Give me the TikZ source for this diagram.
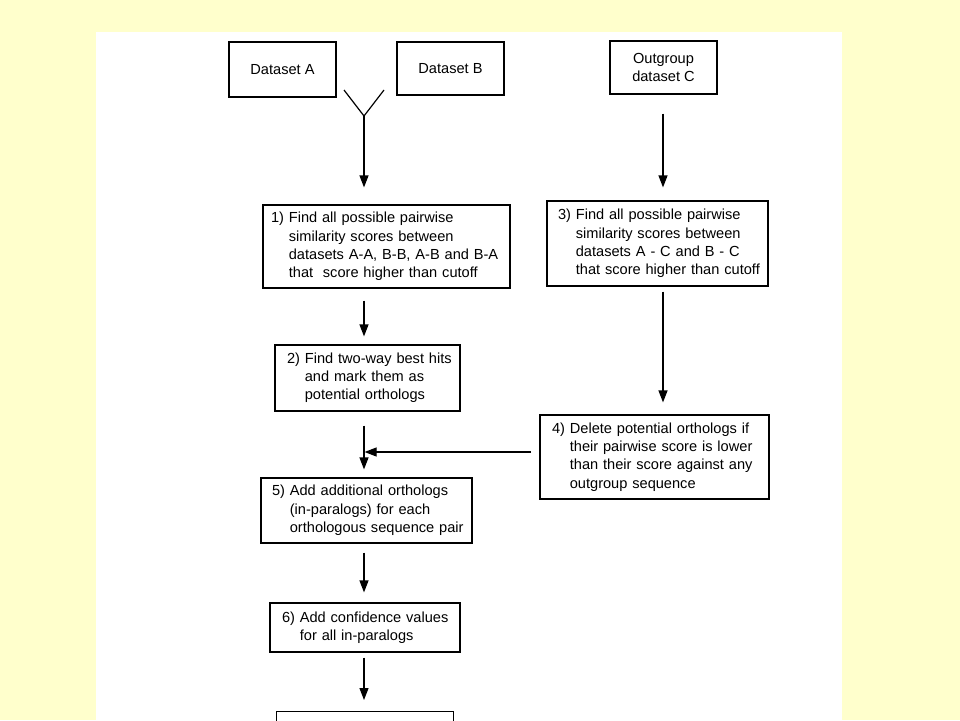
\documentclass[tikz,border=0pt]{standalone}
\usepackage{fontspec}
\setmainfont{Liberation Sans}
\usetikzlibrary{arrows.meta,calc}
\definecolor{bgyellow}{HTML}{FFFFCC}
\newcommand{\stepcontent}[2]{\begin{tabular}{@{}l@{\ }l@{}}#1 & #2\end{tabular}}
\begin{document}
\begin{tikzpicture}[x=1pt,y=-1pt,
  box/.style={draw=black, line width=1.2pt, rectangle, inner ysep=0pt,
    font=\fontsize{14.6}{18.3}\selectfont},
  stepbox/.style={box, align=left},
  flow/.style={line width=1.2pt, -{Triangle[length=12pt,width=9pt]}},
  plainline/.style={line width=1.2pt}]
\fill[bgyellow] (0,0) rectangle (960,720);
\useasboundingbox (0,0) rectangle (960,720);
\fill[white] (96,32) rectangle (842,720);
\clip (0,0) rectangle (960,720);

% dataset boxes
\node[box, minimum width=107pt, minimum height=55pt, inner xsep=0pt] (dsA) at (282.5,69.5) {Dataset A};
\node[box, minimum width=107pt, minimum height=53pt, inner xsep=0pt] (dsB) at (450.5,68.5) {Dataset B};
\node[box, minimum width=107pt, minimum height=53pt, inner xsep=0pt, align=center] (dsC) at (663.5,67.5) {Outgroup\\dataset C};

% step boxes
\node[stepbox, text width=231pt, inner xsep=8pt, minimum height=83pt] (b1) at (386.5,246.5)
  {\stepcontent{1)}{Find all possible pairwise\\ & similarity scores between\\ & datasets A-A, B-B, A-B and B-A\\ & that\ \ score higher than cutoff}};
\node[stepbox, text width=161pt, inner xsep=12pt, minimum height=66pt] (b2) at (367.5,378)
  {\stepcontent{2)}{Find two-way best hits\\ & and mark them as\\ & potential orthologs}};
\node[stepbox, text width=199pt, inner xsep=11pt, minimum height=85pt] (b3) at (657.5,243.5)
  {\stepcontent{3)}{Find all possible pairwise\\ & similarity scores between\\ & datasets A - C and B - C\\ & that score higher than cutoff}};
\node[stepbox, text width=205pt, inner xsep=12pt, minimum height=84pt] (b4) at (654.5,457)
  {\stepcontent{4)}{Delete potential orthologs if\\ & their pairwise score is lower\\ & than their score against any\\ & outgroup sequence}};
\node[stepbox, text width=189pt, inner xsep=11pt, minimum height=65pt] (b5) at (366.5,510.5)
  {\stepcontent{5)}{Add additional orthologs\\ & (in-paralogs) for each\\ & orthologous sequence pair}};
\node[stepbox, text width=166pt, inner xsep=12pt, minimum height=49pt] (b6) at (365,627.5)
  {\stepcontent{6)}{Add confidence values\\ & for all in-paralogs}};
\node[box, minimum width=177pt, minimum height=60pt, anchor=north west] (b7) at (276,711) {};

% helper coordinates
\coordinate (lx) at (364,0);
\coordinate (rx) at (663,0);
\coordinate (ya) at (344,90);
\coordinate (yb) at (384,90);
\coordinate (yj) at (364,116);
\coordinate (hs) at (531,452);

% connectors
\draw[plainline] (ya) -- (yj) -- (yb);
\draw[flow, shorten >=17pt] (yj) -- (yj |- b1.north);
\draw[flow, shorten <=12pt, shorten >=8pt] (lx |- b1.south) -- (lx |- b2.north);
\draw[flow, shorten <=14pt, shorten >=8pt] (lx |- b2.south) -- (lx |- b5.north);
\draw[flow, shorten <=9pt, shorten >=10pt] (lx |- b5.south) -- (lx |- b6.north);
\draw[flow, shorten <=5pt, shorten >=11pt] (lx |- b6.south) -- (lx |- b7.north);
\draw[flow, shorten <=19pt, shorten >=13pt] (rx |- dsC.south) -- (rx |- b3.north);
\draw[flow, shorten <=5pt, shorten >=12pt] (rx |- b3.south) -- (rx |- b4.north);
\draw[flow, shorten >=0.6pt] (hs) -- (lx |- hs);
\end{tikzpicture}
\end{document}
